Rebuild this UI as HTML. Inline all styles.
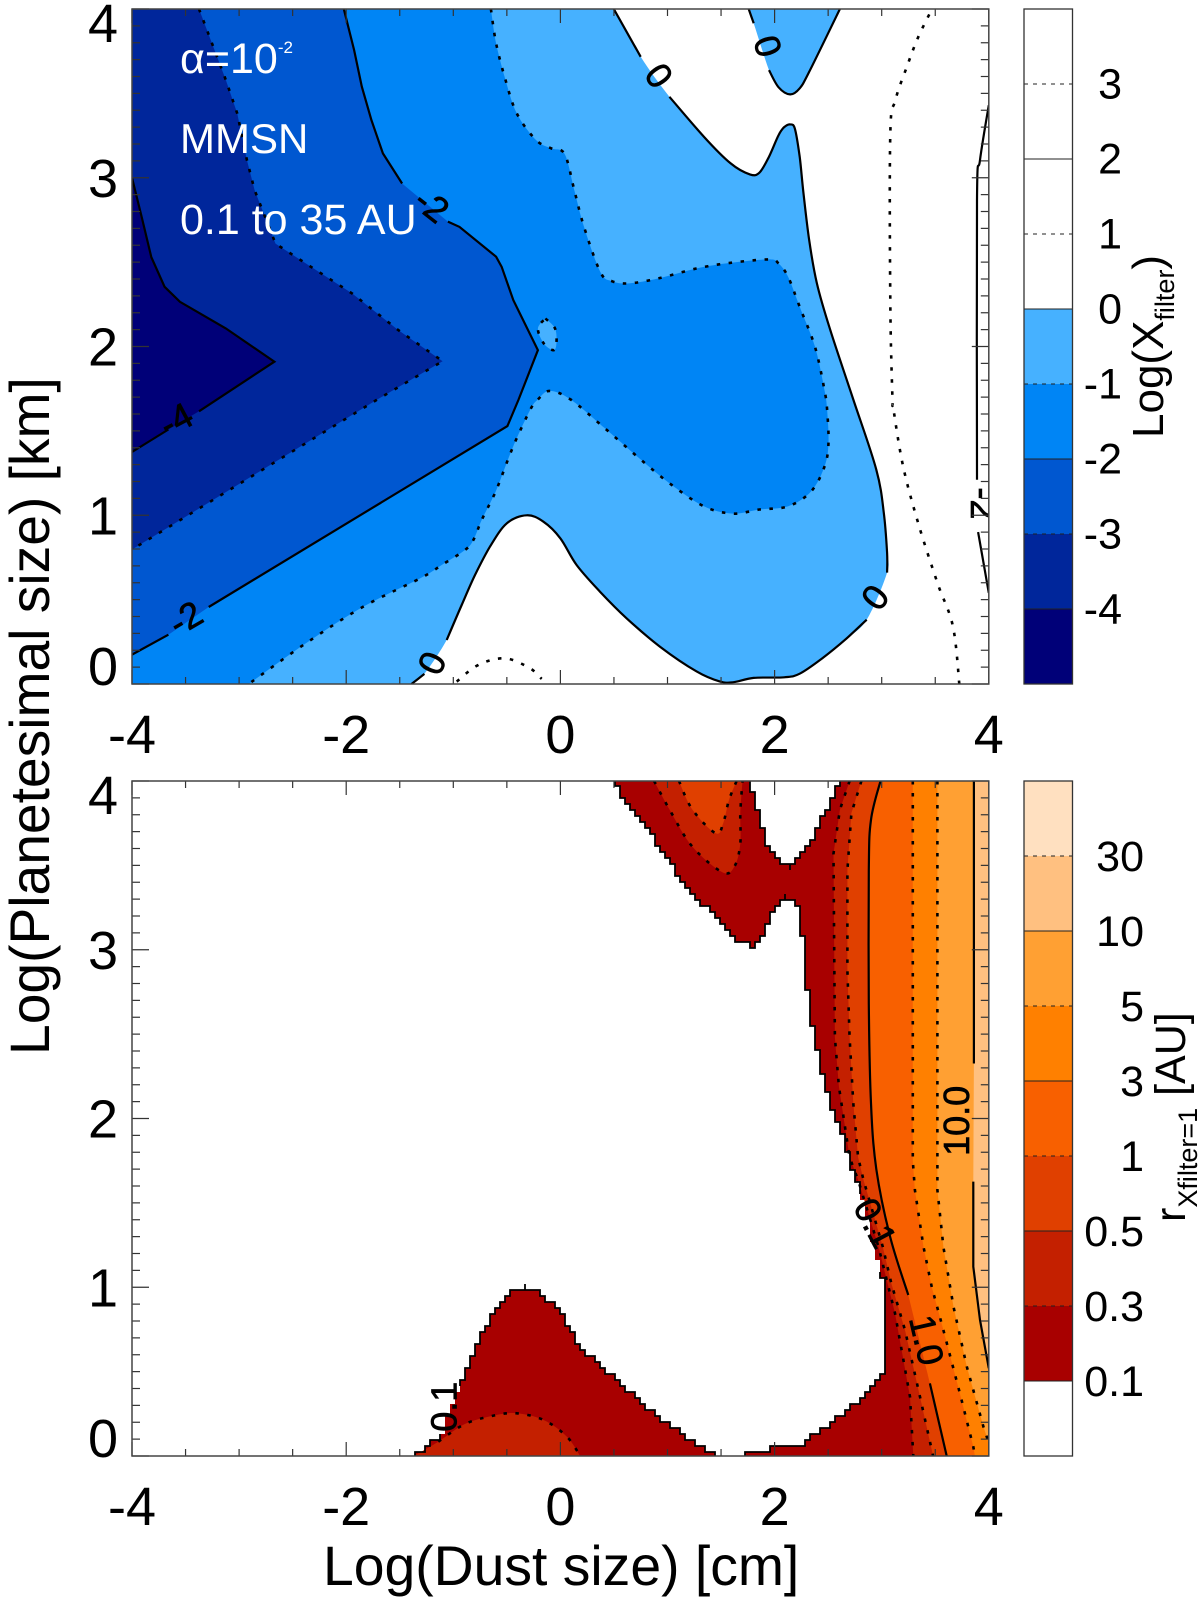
<!DOCTYPE html>
<html lang="en">
<head>
<meta charset="utf-8">
<title>Planetesimal filter contours</title>
<style>
html,body{margin:0;padding:0;background:#fff;width:1200px;height:1597px;overflow:hidden}
svg{display:block}
text{font-family:"Liberation Sans",sans-serif;fill:#000}
</style>
</head>
<body>
<svg id="chart" xmlns="http://www.w3.org/2000/svg" width="1200" height="1597" viewBox="0 0 1200 1597">
  <defs>
    <clipPath id="clip-upper"><rect x="132" y="9" width="857" height="675"/></clipPath>
    <clipPath id="clip-lower"><rect x="132" y="781" width="857" height="675"/></clipPath>
  </defs>
</svg>
<script>
// ---- tick values and labels ----
const xTickLabels = [-4, -2, 0, 2, 4];
const yTickLabels = [0, 1, 2, 3, 4];
const upperBarLabels = ['3', '2', '1', '0', '-1', '-2', '-3', '-4'];
const upperBarValues = [3, 2, 1, 0, -1, -2, -3, -4];
const lowerBarLabels = ['0.1', '0.3', '0.5', '1', '3', '5', '10', '30'];

// ---- level colours, low to high ----
const upperColors = ['#000078', '#00269b', '#0057d0', '#0085f5', '#46b1ff', '#ffffff', '#ffffff', '#ffffff', '#ffffff'];
const lowerColors = ['#ffffff', '#a80000', '#c42000', '#e04000', '#f86000', '#ff8000', '#ffa033', '#ffc080', '#ffe0c0'];

// ---- upper panel contours: [log dust size, log planetesimal size]; null marks a label gap ----
const upperZeroMain = [[0.499,4],[0.75,3.717],null,[1.018,3.48],[1.34,3.243],[1.59,3.085],[1.769,3.02],[1.858,3.03],[1.948,3.125],[2.037,3.253],[2.09,3.30],[2.145,3.316],[2.19,3.29],[2.234,3.125],[2.27,2.907],[2.323,2.63],[2.395,2.374],[2.52,2.097],[2.735,1.686],[2.95,1.27],[3.02,1.014],[3.05,0.777],[3.05,0.66],null,[2.86,0.381],[2.66,0.263],[2.449,0.154],[2.234,0.061],[2.09,0.04],[1.805,0.036],[1.61,0.01],[1.484,0.016],[1.27,0.075],[0.93,0.221],[0.619,0.389],[0.37,0.547],[0.151,0.705],[0.0,0.863],[-0.159,0.962],[-0.315,1.0],[-0.501,0.952],[-0.657,0.814],[-0.797,0.646],[-0.922,0.468],[-1.062,0.261],null,[-1.27,0.06],[-1.39,0]];
const upperZeroTop = [[1.758,4],[1.805,3.915],null,[1.948,3.638],[2.037,3.536],[2.145,3.494],[2.234,3.53],[2.323,3.628],[2.61,4]];
const upperMinusOne = [[-0.649,4],[-0.60,3.796],[-0.513,3.58],[-0.406,3.38],[-0.227,3.223],[-0.084,3.174],[0.04,3.14],[0.13,2.927],[0.22,2.71],[0.374,2.44],[0.481,2.387],[0.642,2.374],[0.91,2.403],[1.269,2.462],[1.59,2.496],[1.948,2.516],[2.037,2.492],[2.126,2.413],[2.234,2.235],[2.377,1.998],[2.466,1.741],[2.49,1.627],[2.503,1.429],[2.467,1.29],[2.342,1.142],[2.127,1.053],[1.86,1.034],[1.61,1.01],[1.34,1.053],[1.018,1.19],[0.732,1.34],[0.41,1.518],[0.095,1.686],[-0.10,1.737],[-0.21,1.686],[-0.28,1.627],[-0.44,1.409],[-0.585,1.17],[-0.642,1.09],[-0.735,0.972],[-0.813,0.853],[-0.891,0.794],[-1.108,0.705],[-1.31,0.626],[-1.836,0.46],[-2.373,0.243],[-2.91,0]];
const upperIsland = [[-0.14,2.166],[-0.05,2.107],[-0.037,2.018],[-0.065,1.978],[-0.155,2.018],[-0.21,2.107],[-0.14,2.166]];
const upperMinusTwo = [[-2.022,4],[-1.926,3.757],[-1.854,3.54],[-1.765,3.342],[-1.657,3.144],[-1.478,2.966],null,[-1.05,2.74],[-0.942,2.709],[-0.6,2.532],[-0.548,2.472],[-0.44,2.275],[-0.21,1.978],[-0.39,1.686],[-0.495,1.528],[-3.284,0.456],null,[-3.66,0.292],[-4,0.174]];
const upperMinusThree = [[-3.374,4],[-3.23,3.757],[-3.124,3.58],[-3.017,3.38],[-2.927,3.105],[-2.855,2.927],[-2.66,2.61],[-2.373,2.49],[-1.944,2.314],[-1.514,2.097],[-1.10,1.913],[-1.71,1.686],[-4,0.797]];
const upperMinusFour = [[-4,3.0],[-3.91,2.77],[-3.82,2.53],[-3.696,2.354],[-3.553,2.265],[-3.124,2.107],[-2.67,1.91],[-3.374,1.616],null,[-3.66,1.508],[-4,1.375]];
const upperPlusOneRight = [[3.725,0],[3.665,0.342],[3.52,0.6],[3.34,0.955],[3.2,1.29],[3.11,1.627],[3.1,1.70],[3.08,2.27],[3.08,3.26],[3.128,3.46],[3.235,3.658],[3.343,3.836],[3.47,4]];
const upperPlusOneBump = [[-0.968,0.014],[-0.766,0.113],[-0.517,0.152],[-0.284,0.093],[-0.175,0.03]];
const upperPlusTwoRight = [[4,3.43],[3.918,3.105],[3.89,2.868],[3.89,1.21],null,[3.90,0.90],[4,0.54]];

// ---- lower panel contours ----
const lowerTenthMain = [[0.517,4],[0.59,3.887],[0.84,3.69],[1.09,3.45],[1.38,3.235],[1.66,3.047],[1.805,3.02],[1.895,3.097],[1.985,3.225],[2.09,3.314],[2.18,3.304],[2.234,3.235],[2.27,3.018],[2.305,2.78],[2.359,2.524],[2.413,2.366],[2.485,2.168],[2.556,2.03],[2.664,1.832],[2.716,1.70],[2.805,1.557],null,[2.984,1.102],[3.04,0.944],[3.04,0.549],[2.984,0.45],[2.797,0.332],[2.533,0.194],[2.206,0.046],[1.98,0.046],[1.734,0.016],[1.734,0]];
const lowerNotch = [[2.61,4],[2.413,3.73],[2.306,3.60],[2.153,3.482],[2.02,3.54],[1.912,3.65],[1.805,3.907],[1.751,4]];
const lowerTenthHump = [[1.484,0],[1.27,0.075],[0.91,0.233],[0.374,0.535],[0.167,0.668],[0.024,0.836],[-0.155,0.955],[-0.316,1.004],[-0.477,0.964],[-0.638,0.846],[-0.817,0.589],[-0.94,0.41],null,[-1.12,0.115],[-1.37,0]];
const lowerHumpThird = [[-1.37,0],[-1.14,0.085],[-0.89,0.19],[-0.62,0.24],[-0.406,0.253],[-0.155,0.213],[0.06,0.115],[0.185,0]];
const lowerLobeThird = [[0.875,4],[1.02,3.83],[1.233,3.61],[1.519,3.457],[1.63,3.5],[1.68,3.63],[1.68,3.81],[1.70,4]];
const lowerLobeHalf = [[1.107,4],[1.233,3.83],[1.45,3.69],[1.52,3.75],[1.574,3.887],[1.645,4]];
const lowerStripThird = [[2.70,4],[2.61,3.83],[2.55,3.57],[2.556,3.08],[2.563,2.48],[2.6,2.19],[2.70,1.77],[2.78,1.636],[2.97,1.24],[3.124,0.846],[3.264,0.351],[3.295,0]];
const lowerStripHalf = [[2.81,4],[2.717,3.81],[2.68,3.47],[2.68,2.88],[2.70,2.48],[2.735,2.09],[2.78,1.77],[2.83,1.636],[3.01,1.24],[3.09,1.024],[3.218,0.746],[3.358,0.351],[3.48,0]];
const lowerStripOne = [[2.989,4],[2.90,3.77],[2.88,3.47],[2.88,2.68],[2.90,2.09],[2.95,1.70],[3.078,1.3],[3.248,0.954],null,[3.45,0.43],[3.607,0]];
const lowerStripThree = [[3.29,4],[3.29,1.75],[3.31,1.576],[3.39,1.24],[3.467,1.003],[3.576,0.746],[3.73,0.371],[3.855,0.055],[3.87,0]];
const lowerStripFive = [[3.52,4],[3.52,1.70],[3.52,1.576],[3.576,1.24],[3.67,0.885],[3.795,0.53],[3.95,0.174],[4,0.077]];
const lowerStripTen = [[3.861,4],[3.861,2.326],null,[3.855,1.626],[3.855,1.122],[3.918,0.806],[4,0.52]];

// ---- contour labels: text, dust, planetesimal, angle ----
const upperContourLabels = [['0',0.921,3.605,54],['0',1.937,3.78,72],['0',2.938,0.514,-53],['0',-1.2,0.124,-65],['-2',-1.2,2.838,38],['-2',-3.5,0.391,-30],['-4',-3.59,1.567,-28],['-2',3.95,1.07,90]];
const lowerContourLabels = [['0.1',-1.085,0.292,-90],['0.1',2.94,1.38,62],['1.0',3.42,0.687,77],['10.0',3.70,1.986,-90]];

// ---- axis functions ----
const xPx = v => 132 + (v + 4) * 107.1;
const upperY = v => 684 - v * 168.75;
const lowerY = v => 1456 - v * 168.75;
const upperBarY = v => 309 - v * 75;
const lowerBarY = i => 1381 - i * 75;

const NS = 'http://www.w3.org/2000/svg';
const root = document.getElementById('chart');
function node(tag, props, parent) {
  const el = document.createElementNS(NS, tag);
  for (const k in props) el.setAttribute(k, props[k]);
  (parent || root).appendChild(el);
  return el;
}
function segments(pts) {
  const out = [[]];
  pts.forEach(p => { if (p === null) out.push([]); else out[out.length - 1].push(p); });
  return out.filter(s => s.length > 1);
}
function curve(px, smooth) {
  let d = '';
  for (let i = 1; i < px.length; i++) {
    if (!smooth) { d += 'L' + px[i][0].toFixed(1) + ' ' + px[i][1].toFixed(1); continue; }
    const a = px[i - 2] || px[i - 1], b = px[i - 1], c = px[i], e = px[i + 1] || c;
    d += 'C' + (b[0] + (c[0] - a[0]) / 6).toFixed(1) + ' ' + (b[1] + (c[1] - a[1]) / 6).toFixed(1) + ' ' +
      (c[0] - (e[0] - b[0]) / 6).toFixed(1) + ' ' + (c[1] - (e[1] - b[1]) / 6).toFixed(1) + ' ' +
      c[0].toFixed(1) + ' ' + c[1].toFixed(1);
  }
  return d;
}
function openPath(pts, yf, smooth) {
  const px = pts.map(p => [xPx(p[0]), yf(p[1])]);
  return 'M' + px[0][0].toFixed(1) + ' ' + px[0][1].toFixed(1) + curve(px, smooth);
}
function stairPath(pts, yf) {
  const sx = 5, sy = 6;
  let d = '', cx = null, cy = null;
  for (let i = 1; i < pts.length; i++) {
    const a = [xPx(pts[i - 1][0]), yf(pts[i - 1][1])], b = [xPx(pts[i][0]), yf(pts[i][1])];
    const n = Math.max(1, Math.ceil(Math.hypot(b[0] - a[0], b[1] - a[1])));
    for (let t = 0; t <= n; t++) {
      const x = Math.round((a[0] + (b[0] - a[0]) * t / n) / sx) * sx;
      const y = Math.round((a[1] + (b[1] - a[1]) * t / n) / sy) * sy;
      if (cx === null) { d += 'M' + x + ' ' + y; }
      else if (x !== cx || y !== cy) { d += 'L' + x + ' ' + cy + 'L' + x + ' ' + y; }
      cx = x; cy = y;
    }
  }
  return d;
}
function fillRegion(group, pts, closure, yf, color, smooth, name) {
  const clean = pts.filter(p => p !== null);
  const d = openPath(clean, yf, smooth) + closure.map(p => 'L' + xPx(p[0]).toFixed(1) + ' ' + yf(p[1]).toFixed(1)).join('') + 'Z';
  const el = node('path', { d: d, fill: color, stroke: 'none' }, group);
  
  
}
function strokeLine(group, pts, yf, dotted, smooth, name) {
  segments(pts).forEach(seg => {
    const el = node('path', {
      d: openPath(seg, yf, smooth), fill: 'none', stroke: '#000',
      'stroke-width': dotted ? 2.6 : 2.2, 'stroke-dasharray': dotted ? '3.5 8.5' : 'none'
    }, group);
    
    
  });
}
function contourLabels(group, list, yf) {
  list.forEach(item => {
    const x = xPx(item[1]), y = yf(item[2]);
    const el = node('text', {
      x: x, y: y, 'text-anchor': 'middle', 'dominant-baseline': 'central', 'font-size': 36,
      stroke: '#000', 'stroke-width': 0.7,
      transform: 'rotate(' + item[3] + ' ' + x + ' ' + y + ')'
    }, group);
    el.textContent = item[0];
    
    
  });
}
function drawAxes(yf, bottom, top, prefix) {
  for (let v = -4; v <= 4.001; v += 0.5) {
    const major = Math.abs(v / 2 - Math.round(v / 2)) < 1e-6;
    const len = major ? 14 : 7, x = xPx(v);
    [[bottom, bottom - len], [top, top + len]].forEach(s => {
      const t = node('line', { x1: x, x2: x, y1: s[0], y2: s[1], stroke: '#333', 'stroke-width': 1.2 });
      
      
    });
  }
  for (let i = 0; i <= 40; i++) {
    const v = i / 10, y = yf(v), len = i % 10 === 0 ? 17 : 8;
    [[132, 132 + len], [988.8, 988.8 - len]].forEach(s => {
      const t = node('line', { x1: s[0], x2: s[1], y1: y, y2: y, stroke: '#333', 'stroke-width': 1.2 });
      
      
    });
  }
  const frame = node('rect', { x: 132, y: top, width: 856.8, height: bottom - top, fill: 'none', stroke: '#444', 'stroke-width': 1.5 });
  
  
  xTickLabels.forEach(v => {
    const t = node('text', { x: xPx(v), y: bottom + 69, 'text-anchor': 'middle', 'font-size': 54 });
    t.textContent = String(v);
    
    
  });
  yTickLabels.forEach(v => {
    const off = v === 4 ? 33 : (v === 0 ? 1 : 19);
    const t = node('text', { x: 118, y: yf(v) + off, 'text-anchor': 'end', 'font-size': 54 });
    t.textContent = String(v);
    
    
  });
}

// ---- upper panel ----
const up = node('g', { 'clip-path': 'url(#clip-upper)' });


const cornersLowerLeft = [[-4, 0], [-4, 4]];
fillRegion(up, upperZeroMain, cornersLowerLeft, upperY, upperColors[4], true, 'region-below-0');
fillRegion(up, upperZeroTop, [], upperY, upperColors[4], true, 'region-top-lobe');
fillRegion(up, upperMinusOne, cornersLowerLeft, upperY, upperColors[3], true, 'region-below-minus-1');
fillRegion(up, upperIsland, [], upperY, upperColors[4], true, 'island-above-minus-1');
fillRegion(up, upperMinusTwo, [[-4, 4]], upperY, upperColors[2], false, 'region-below-minus-2');
fillRegion(up, upperMinusThree, [[-4, 4]], upperY, upperColors[1], false, 'region-below-minus-3');
fillRegion(up, upperMinusFour, [], upperY, upperColors[0], false, 'region-below-minus-4');
strokeLine(up, upperZeroMain, upperY, false, true, 'contour-0');
strokeLine(up, upperZeroTop, upperY, false, true, 'contour-0-top');
strokeLine(up, upperMinusOne, upperY, true, true, 'contour-minus-1');
strokeLine(up, upperIsland, upperY, true, true, 'contour-minus-1-island');
strokeLine(up, upperMinusTwo, upperY, false, false, 'contour-minus-2');
strokeLine(up, upperMinusThree, upperY, true, false, 'contour-minus-3');
strokeLine(up, upperMinusFour, upperY, false, false, 'contour-minus-4');
strokeLine(up, upperPlusOneRight, upperY, true, true, 'contour-plus-1');
strokeLine(up, upperPlusOneBump, upperY, true, true, 'contour-plus-1-bump');
strokeLine(up, upperPlusTwoRight, upperY, false, true, 'contour-plus-2');
contourLabels(up, upperContourLabels, upperY);
drawAxes(upperY, 684, 9, 'upper');

// ---- lower panel ----
const lo = node('g', { 'clip-path': 'url(#clip-lower)' });


const stairMain = lowerTenthMain.filter(p => p !== null);
const mainFill = node('path', {
  d: stairPath(stairMain, lowerY) + 'L' + xPx(4.1) + ' ' + lowerY(-0.1) + 'L' + xPx(4.1) + ' ' + lowerY(4.1) + 'L' + xPx(0.517) + ' ' + lowerY(4.1) + 'Z',
  fill: lowerColors[1]
}, lo);


const notchFill = node('path', {
  d: stairPath(lowerNotch, lowerY) + 'L' + xPx(1.751) + ' ' + lowerY(4.1) + 'L' + xPx(2.61) + ' ' + lowerY(4.1) + 'Z',
  fill: '#fff'
}, lo);


const humpFill = node('path', { d: stairPath(lowerTenthHump.filter(p => p !== null), lowerY) + 'Z', fill: lowerColors[1] }, lo);


fillRegion(lo, lowerHumpThird, [], lowerY, lowerColors[2], true, 'region-above-0.3-hump');
fillRegion(lo, lowerLobeThird, [], lowerY, lowerColors[2], true, 'region-above-0.3-lobe');
fillRegion(lo, lowerLobeHalf, [], lowerY, lowerColors[3], true, 'region-above-0.5-lobe');
const cornersRight = [[4, 0], [4, 4]];
fillRegion(lo, lowerStripThird, cornersRight, lowerY, lowerColors[2], false, 'region-above-0.3-strip');
fillRegion(lo, lowerStripHalf, cornersRight, lowerY, lowerColors[3], false, 'region-above-0.5-strip');
fillRegion(lo, lowerStripOne, cornersRight, lowerY, lowerColors[4], false, 'region-above-1-strip');
fillRegion(lo, lowerStripThree, cornersRight, lowerY, lowerColors[5], false, 'region-above-3-strip');
fillRegion(lo, lowerStripFive, cornersRight, lowerY, lowerColors[6], false, 'region-above-5-strip');
fillRegion(lo, lowerStripTen, [[4, 4]], lowerY, lowerColors[7], false, 'region-above-10-strip');
segments(lowerTenthMain).concat(segments(lowerTenthHump), [lowerNotch]).forEach(seg => {
  const el = node('path', { d: stairPath(seg, lowerY), fill: 'none', stroke: '#000', 'stroke-width': 1.8 }, lo);
  
  
});
strokeLine(lo, lowerHumpThird.slice(1), lowerY, true, true, 'contour-0.3-hump');
strokeLine(lo, lowerLobeThird, lowerY, true, true, 'contour-0.3-lobe');
strokeLine(lo, lowerLobeHalf, lowerY, true, true, 'contour-0.5-lobe');
strokeLine(lo, lowerStripThird, lowerY, true, false, 'contour-0.3-strip');
strokeLine(lo, lowerStripHalf, lowerY, true, false, 'contour-0.5-strip');
strokeLine(lo, lowerStripOne, lowerY, false, true, 'contour-1-strip');
strokeLine(lo, lowerStripThree, lowerY, true, false, 'contour-3-strip');
strokeLine(lo, lowerStripFive, lowerY, true, false, 'contour-5-strip');
strokeLine(lo, lowerStripTen, lowerY, false, false, 'contour-10-strip');
contourLabels(lo, lowerContourLabels, lowerY);
drawAxes(lowerY, 1456, 781, 'lower');

// ---- colour bars ----
upperColors.slice().reverse().forEach((c, i) => {
  const r = node('rect', { x: 1024, y: upperBarY(4 - i), width: 48.5, height: 75, fill: c });
  
  
});
upperBarValues.forEach((v, i) => {
  const y = upperBarY(v);
  const l = node('line', { x1: 1024, x2: 1072.5, y1: y, y2: y, stroke: '#222', 'stroke-width': 1, 'stroke-dasharray': i % 2 === 0 ? '4 5' : 'none' });
  
  
  const t = node('text', { x: 1122, y: y + 14.5, 'text-anchor': 'end', 'font-size': 43 });
  t.textContent = upperBarLabels[i];
  
  
});
lowerColors.forEach((c, i) => {
  const r = node('rect', { x: 1024, y: lowerBarY(i), width: 48.5, height: 75, fill: c });
  
  
});
lowerBarLabels.forEach((txt, i) => {
  const y = lowerBarY(i);
  const dotted = i % 2 === 1;
  const l = node('line', { x1: 1024, x2: 1072.5, y1: y, y2: y, stroke: '#222', 'stroke-width': 1, 'stroke-dasharray': dotted ? '4 5' : 'none' });
  
  
  const t = node('text', { x: 1144, y: y + 15, 'text-anchor': 'end', 'font-size': 43 });
  t.textContent = txt;
  
  
});
[[9, 675], [781, 675]].forEach(b => {
  const f = node('rect', { x: 1024, y: b[0], width: 48.5, height: b[1], fill: 'none', stroke: '#333', 'stroke-width': 1.3 });
  
  
});
</script>
<script>
// static text layered on top of the drawn plots
(function () {
  const svg = document.getElementById('chart');
  const markup = `
  <g font-size="43">
    <text x="180" y="73" style="fill:#fff">α=10<tspan font-size="17" dy="-20">-2</tspan></text>
    <text x="180" y="153" style="fill:#fff" font-size="42">MMSN</text>
    <text x="180" y="234" style="fill:#fff">0.1 to 35 AU</text>
  </g>
  <text x="323" y="1585" font-size="55.3">Log(Dust size) [cm]</text>
  <text transform="translate(49 1055) rotate(-90)" font-size="55.2">Log(Planetesimal size) [km]</text>
  <text transform="translate(1163 438) rotate(-90)" font-size="44">Log(X<tspan font-size="27" dy="11">filter</tspan><tspan dy="-11">)</tspan></text>
  <text transform="translate(1185 1222) rotate(-90)" font-size="43">r<tspan font-size="27" dy="12">Xfilter=1</tspan><tspan dy="-12"> [AU]</tspan></text>`;
  const holder = document.createElementNS('http://www.w3.org/2000/svg', 'g');
  
  
  holder.innerHTML = markup;
  svg.appendChild(holder);
})();
</script>
</body>
</html>
